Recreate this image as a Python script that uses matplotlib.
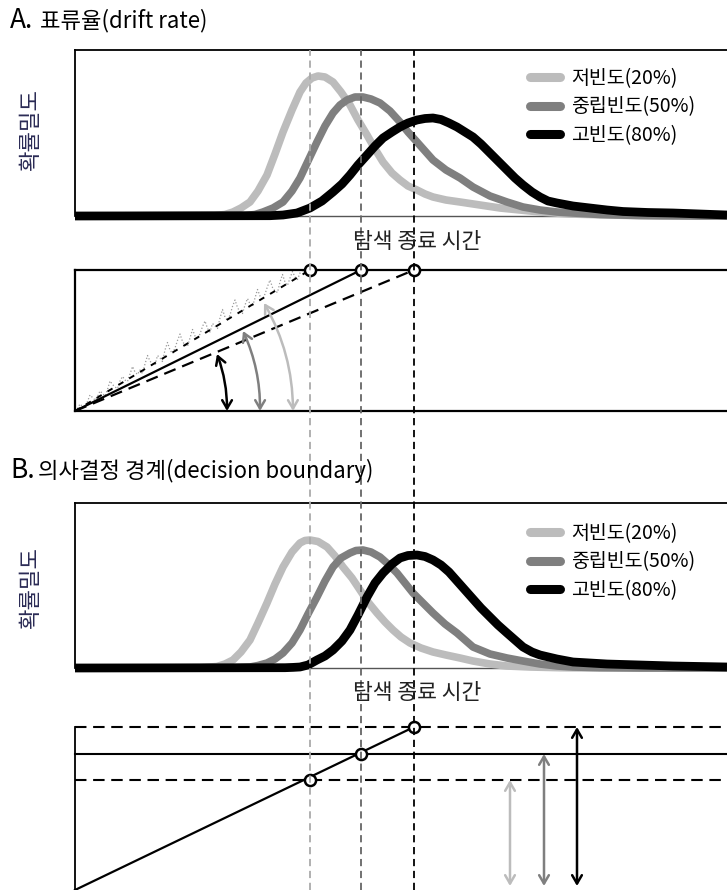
import matplotlib
matplotlib.use("Agg")
import matplotlib.pyplot as plt
from matplotlib.lines import Line2D
from matplotlib.patches import FancyArrowPatch

plt.rcParams['font.family'] = ['Noto Sans CJK KR', 'DejaVu Sans']

# --- data (time in ms, density / evidence in arbitrary units) ---
conditions = ['저빈도(20%)', '중립빈도(50%)', '고빈도(80%)']
colors = ['#bcbcbc', '#7f7f7f', '#000000']
rt_end = [470, 572, 678]          # search termination time per condition

# A. drift-rate model: RT densities
a_light_t = [0, 280, 300, 316, 332, 350, 366, 384, 400, 416, 434, 450, 462, 474, 486, 500, 516, 532, 550, 566,
             584, 600, 616, 634, 650, 666, 684, 700, 716, 742, 770, 810, 850, 890, 930, 990, 1070, 1170, 1304]
a_light_y = [0, 0.5, 1.5, 4, 8, 14, 25, 41, 62, 84, 106, 124, 133, 138, 140, 139, 134, 124, 111, 96,
             81, 67, 54, 43, 36, 30, 26, 22, 19, 16, 14, 11, 8, 6, 4, 2, 1, 0, 0]
a_mid_t = [0, 340, 360, 376, 396, 416, 434, 450, 466, 484, 500, 516, 530, 544, 560, 576, 592, 610, 630, 650,
           666, 684, 700, 716, 742, 770, 796, 830, 864, 896, 930, 964, 996, 1050, 1130, 1250, 1304]
a_mid_y = [0, 0.5, 1.5, 4, 8, 14, 25, 38, 55, 74, 90, 103, 111, 116, 119, 119, 117, 113, 105, 94,
           84, 74, 65, 56, 46, 38, 29, 20, 14, 9, 6, 4, 3, 1.5, 0.5, 0, 0]
a_high_t = [0, 390, 416, 444, 470, 494, 516, 534, 550, 566, 584, 600, 616, 634, 650, 666, 684, 700, 716, 732,
            748, 764, 780, 796, 812, 830, 846, 864, 880, 896, 914, 930, 946, 964, 996, 1030, 1064, 1096,
            1146, 1196, 1250, 1304]
a_high_y = [0, 0.3, 1, 3, 8, 15, 24, 32, 41, 51, 61, 70, 78, 84, 89, 93, 96, 97.5, 98, 96.5,
            93, 89, 84, 79, 72, 63, 55, 46, 38, 31, 24, 19, 15, 13, 10, 8, 6, 4.5,
            3.5, 3, 2, 1]

# B. decision-boundary model: RT densities
b_light_t = [0, 250, 270, 284, 300, 316, 332, 350, 366, 384, 400, 416, 434, 450, 460, 470, 486, 504, 520, 536,
             554, 570, 586, 604, 620, 636, 652, 670, 692, 716, 742, 770, 796, 830, 864, 910, 970, 1050, 1304]
b_light_y = [0, 0.3, 1, 1.5, 4, 8, 16, 28, 45, 65, 84, 101, 116, 125, 127.5, 128, 126.5, 121, 112, 101,
             90, 78, 66, 55, 46, 38, 31, 25, 20, 16, 13, 10, 7, 4, 2, 1, 0.3, 0, 0]
b_mid_t = [0, 320, 336, 350, 366, 384, 400, 416, 434, 450, 466, 484, 500, 516, 532, 550, 562, 576, 592, 610,
           626, 644, 660, 676, 696, 716, 740, 764, 780, 796, 830, 864, 896, 930, 964, 996, 1050, 1130, 1304]
b_mid_y = [0, 0.3, 0.7, 1, 2.5, 5, 9, 15, 25, 38, 54, 71, 87, 101, 110, 115, 117.5, 118, 116, 111,
           104, 95, 85, 75, 65, 55, 44, 35, 28, 21, 14, 10, 7, 4, 2, 1, 0.4, 0, 0]
b_high_t = [0, 420, 436, 450, 466, 484, 500, 516, 534, 550, 566, 584, 600, 616, 634, 650, 666, 684, 700, 716,
            732, 748, 764, 780, 796, 812, 830, 846, 864, 880, 896, 914, 930, 964, 996, 1030, 1064, 1130,
            1196, 1250, 1304]
b_high_y = [0, 0.3, 0.6, 1, 3, 8, 12, 18, 27, 38, 53, 71, 85, 95, 104, 110, 112.5, 113, 111.5, 108,
            103, 96, 87, 78, 69, 60, 51, 43, 35, 28, 21, 16, 13, 9, 6, 5, 4, 3,
            2, 1.5, 1]

# A. evidence accumulation: one noisy sample path (low-frequency condition), 5 ms steps
trace_t = list(range(0, 475, 5))
trace_ev = [0, 2.5, 7, 4.5, 4, 9.5, 16, 13.5, 11, 14.5, 20, 17.5, 15, 21.5, 30, 26.5, 24, 22.5, 30, 34.5,
            31, 29.5, 37, 44.5, 39, 36.5, 41, 37.5, 47, 55.5, 50, 46.5, 46, 55.5, 53, 49.5, 61, 68.5, 61, 57.5,
            63, 70.5, 77, 69.5, 66, 64.5, 73, 81.5, 75, 71.5, 77, 84.5, 90, 82.5, 79, 87.5, 85, 82.5, 93, 101.5,
            94, 90.5, 96, 104.5, 111, 103.5, 99, 97.5, 106, 112.5, 107, 104.5, 113, 121.5, 115, 111.5, 117, 124.5,
            131, 123.5, 120, 118.5, 129, 136.5, 129, 125.5, 133, 139.5, 134, 131.5, 138, 140.5, 137, 140.5, 141]
a_bound = 141                      # single boundary in A
# angle arrows (start on x axis, end near drift line)
a_arrow_start = [(436, 0), (370, 0), (304, 0)]
a_arrow_end = [(378, 108), (336, 80), (284, 57)]
a_arrow_rad = [0.13, 0.11, 0.09]

# B. single drift, three boundaries
b_bound = [110, 136, 163]
b_arrow_t = [870, 938, 1004]

XMAX = 1370
fig = plt.figure(figsize=(7.27, 8.9), dpi=100)
W, H = 727, 890


def box(top, bottom, left=75, right=760):
    return [left / W, 1 - bottom / H, (right - left) / W, (bottom - top) / H]


def density_axes(top, bottom, series, ymax, legend_top):
    ax = fig.add_axes(box(top, bottom))
    for (t, y), c in zip(series, colors):
        ax.plot(t, y, color=c, lw=5.5 if c != '#000000' else 6.3, clip_on=False,
                solid_capstyle='butt', solid_joinstyle='round', zorder=3)
    ax.set_xlim(0, XMAX)
    ax.set_ylim(0, ymax)
    ax.set_xticks([])
    ax.set_yticks([])
    for s in ['top', 'left']:
        ax.spines[s].set_linewidth(1.3)
    ax.spines['bottom'].set_color('#555555')
    ax.spines['bottom'].set_linewidth(1.0)
    ax.spines['right'].set_visible(False)
    handles = [Line2D([], [], color=c, lw=6.5, solid_capstyle='round') for c in colors]
    ax.legend(handles, conditions, loc='upper left', frameon=False, fontsize=14,
              bbox_to_anchor=(530 / W, 1 - legend_top / H), bbox_transform=fig.transFigure,
              borderpad=0, borderaxespad=0, handlelength=1.55, handletextpad=0.55,
              labelspacing=0.38)
    return ax


# ---- Panel A ----
density_axes(50, 216, [(a_light_t, a_light_y), (a_mid_t, a_mid_y), (a_high_t, a_high_y)], 166, 68)

axa = fig.add_axes(box(270, 411))
axa.set_xlim(0, XMAX)
axa.set_ylim(0, a_bound)
axa.set_xticks([])
axa.set_yticks([])
for s in ['top', 'left', 'bottom']:
    axa.spines[s].set_linewidth(1.6)
axa.spines['right'].set_visible(False)
axa.plot(trace_t, trace_ev, color='#999999', lw=0.9, ls=':', zorder=2)
axa.plot([0, rt_end[0]], [0, a_bound], color='black', lw=1.4, dashes=(3, 3.5), zorder=3)
axa.plot([0, rt_end[1]], [0, a_bound], color='black', lw=1.6, zorder=3)
axa.plot([0, rt_end[2]], [0, a_bound], color='black', lw=1.6, dashes=(5.5, 3.2), zorder=3)
for p0, p1, r, c in zip(a_arrow_start, a_arrow_end, a_arrow_rad, colors):
    axa.add_patch(FancyArrowPatch(p0, p1, connectionstyle=f'arc3,rad={r}',
                                  arrowstyle='<->,head_length=6,head_width=3.5',
                                  color=c, lw=1.8, shrinkA=0, shrinkB=0, zorder=4))
axa.plot(rt_end, [a_bound] * 3, 'o', ms=8, mfc='white', mec='black', mew=1.8,
         clip_on=False, zorder=6)

# ---- Panel B ----
density_axes(503, 668, [(b_light_t, b_light_y), (b_mid_t, b_mid_y), (b_high_t, b_high_y)], 165, 523)

axb = fig.add_axes(box(727, 890))
axb.set_xlim(0, XMAX)
axb.set_ylim(0, b_bound[2])
axb.set_xticks([])
axb.set_yticks([])
for s in ['top', 'right', 'bottom']:
    axb.spines[s].set_visible(False)
axb.spines['left'].set_linewidth(1.3)
for yb, st in zip(b_bound, ['dashed', 'solid', 'dashed']):
    kw = dict(dashes=(5.5, 3.2)) if st == 'dashed' else {}
    axb.plot([0, XMAX], [yb, yb], color='black', lw=1.5, clip_on=False, zorder=2, **kw)
axb.plot([0, rt_end[2]], [0, b_bound[2]], color='black', lw=1.6, clip_on=False, zorder=3)
for t, yb, c in zip(b_arrow_t, b_bound, colors):
    axb.add_patch(FancyArrowPatch((t, 4), (t, yb), arrowstyle='<->,head_length=6,head_width=3.5',
                                  color=c, lw=1.8, shrinkA=0, shrinkB=0, zorder=4))
axb.plot(rt_end, b_bound, 'o', ms=8, mfc='white', mec='black', mew=1.8, clip_on=False, zorder=6)

# ---- vertical guide lines across all panels ----
ov = fig.add_axes(box(50, 890))
ov.set_xlim(0, XMAX)
ov.set_ylim(0, 1)
ov.axis('off')
for t, c in zip(rt_end, ['#aaaaaa', '#666666', '#000000']):
    ov.axvline(t, color=c, lw=1.3, dashes=(4, 2.6), zorder=1)

# ---- texts ----
title_fam = ['Liberation Sans Narrow', 'Noto Sans CJK KR', 'DejaVu Sans']
fig.text(10 / W, 1 - 21 / H, 'A.', fontsize=19, family=title_fam, va='center', ha='left')
fig.text(40 / W, 1 - 21 / H, '표류율(drift rate)', fontsize=16, family=title_fam, va='center', ha='left')
fig.text(10 / W, 1 - 471 / H, 'B.', fontsize=19, family=title_fam, va='center', ha='left')
fig.text(38 / W, 1 - 471 / H, '의사결정 경계(decision boundary)', fontsize=16, family=title_fam,
         va='center', ha='left')
for yc in [242, 693]:
    fig.text(417 / W, 1 - yc / H, '탐색 종료 시간', fontsize=15.5, ha='center', va='center', color='#222222')
for yc in [130, 588]:
    fig.text(31 / W, 1 - yc / H, '확률밀도', fontsize=16, rotation=90, ha='center', va='center',
             color='#2b2b55')

fig.savefig('out.png', dpi=100)
